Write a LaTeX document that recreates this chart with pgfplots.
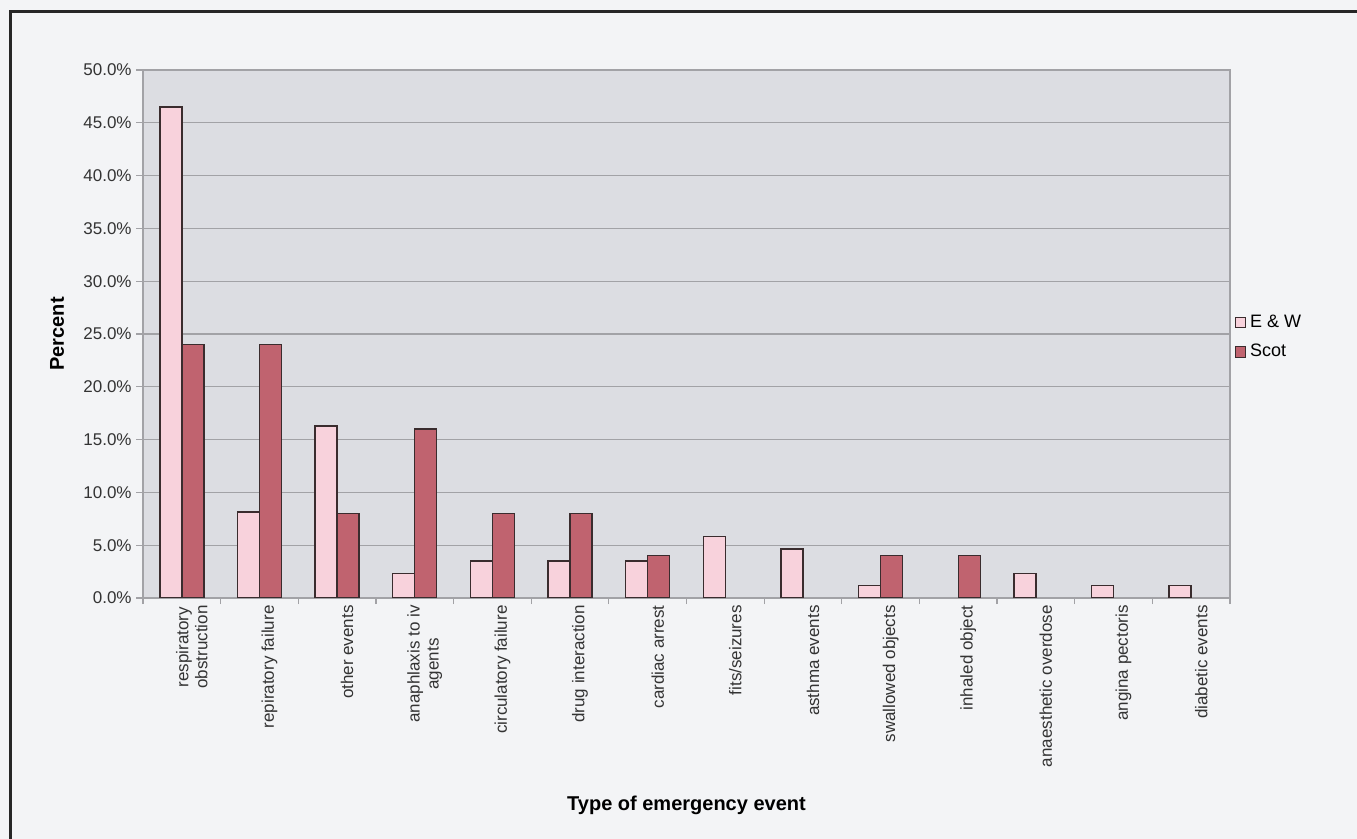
\documentclass[border=0pt]{standalone}
\usepackage{pgfplots}
\pgfplotsset{compat=1.18}
\usepackage{fontspec}
\setmainfont{Liberation Sans}
\definecolor{ew}{HTML}{F8D2DC}
\definecolor{sc}{HTML}{C0636F}
\definecolor{bg}{HTML}{F3F4F6}
\definecolor{pa}{HTML}{DCDDE2}
\definecolor{gridc}{HTML}{A2A2A6}
\definecolor{edge}{HTML}{3A2C2E}
\begin{document}
\begin{tikzpicture}
\path[use as bounding box] (0,0) rectangle (678.5pt,-419.5pt);
\fill[bg] (0,0) rectangle (678.5pt,-419.5pt);
\draw[line width=1.5pt,black!85] (5.2pt,-419.5pt) -- (5.2pt,-5.6pt) -- (678.5pt,-5.6pt);
\begin{axis}[
  at={(71.5pt,-299pt)}, anchor=south west,
  scale only axis, width=543.5pt, height=264pt,
  ybar=0pt, bar width=11pt,
  xmin=-0.5, xmax=13.5, ymin=0, ymax=50,
  axis background/.style={fill=pa},
  axis line style={draw=gridc, line width=0.6pt},
  ymajorgrids, grid style={draw=gridc, line width=0.6pt},
  ytick={0,5,...,50},
  xtick pos=bottom, ytick pos=left,
  tick align=outside, major tick length=3.5pt,
  yticklabel={\pgfmathprintnumber[fixed,fixed zerofill,precision=1]{\tick}\%},
  /pgf/number format/assume math mode=true,
  yticklabel style={font=\fontsize{8.5}{10}\selectfont, text=black!80, inner sep=2pt},
  xtick={0,...,13},
  major x tick style={draw=none},
  minor xtick={-0.5,0.5,...,13.5},
  minor x tick style={draw=gridc, line width=0.6pt},
  minor tick length=3pt,
  y tick style={draw=gridc, line width=0.6pt},
  xticklabels={{respiratory\\obstruction},{repiratory failure},{other events},{anaphlaxis to iv\\agents},{circulatory failure},{drug interaction},{cardiac arrest},{fits/seizures},{asthma events},{swallowed objects},{inhaled object},{anaesthetic overdose},{angina pectoris},{diabetic events}},
  xticklabel style={rotate=90, anchor=east, align=center, font=\fontsize{8.5}{9.5}\selectfont, text=black!80, inner sep=0pt, yshift=-5pt},
  xlabel={Type of emergency event},
  xlabel style={at={(rel axis cs:0.5,0)}, anchor=center, yshift=-103.5pt, font=\bfseries\fontsize{10}{12}\selectfont},
  ylabel={Percent},
  ylabel style={at={(rel axis cs:-0.0791,0.5)}, anchor=center, font=\bfseries\fontsize{10}{12}\selectfont},
  legend style={at={(rel axis cs:1.004,0.545)}, anchor=north west, draw=none, fill=none, font=\fontsize{9}{11}\selectfont, row sep=3pt, inner sep=0pt},
  legend cell align=left,
  legend image code/.code={\draw[#1, draw=edge, line width=0.5pt] (0pt,-2.6pt) rectangle (5.2pt,2.6pt);},
]
\addplot[fill=ew, draw=edge, line width=0.7pt] coordinates {
(0,46.51) (1,8.14) (2,16.28) (3,2.33) (4,3.49) (5,3.49) (6,3.49) (7,5.81) (8,4.65) (9,1.16) (11,2.33) (12,1.16) (13,1.16)};
\addplot[fill=sc, draw=edge, line width=0.7pt] coordinates {
(0,24) (1,24) (2,8) (3,16) (4,8) (5,8) (6,4) (9,4) (10,4)};
\legend{E \& W, Scot}
\end{axis}
\end{tikzpicture}
\end{document}
